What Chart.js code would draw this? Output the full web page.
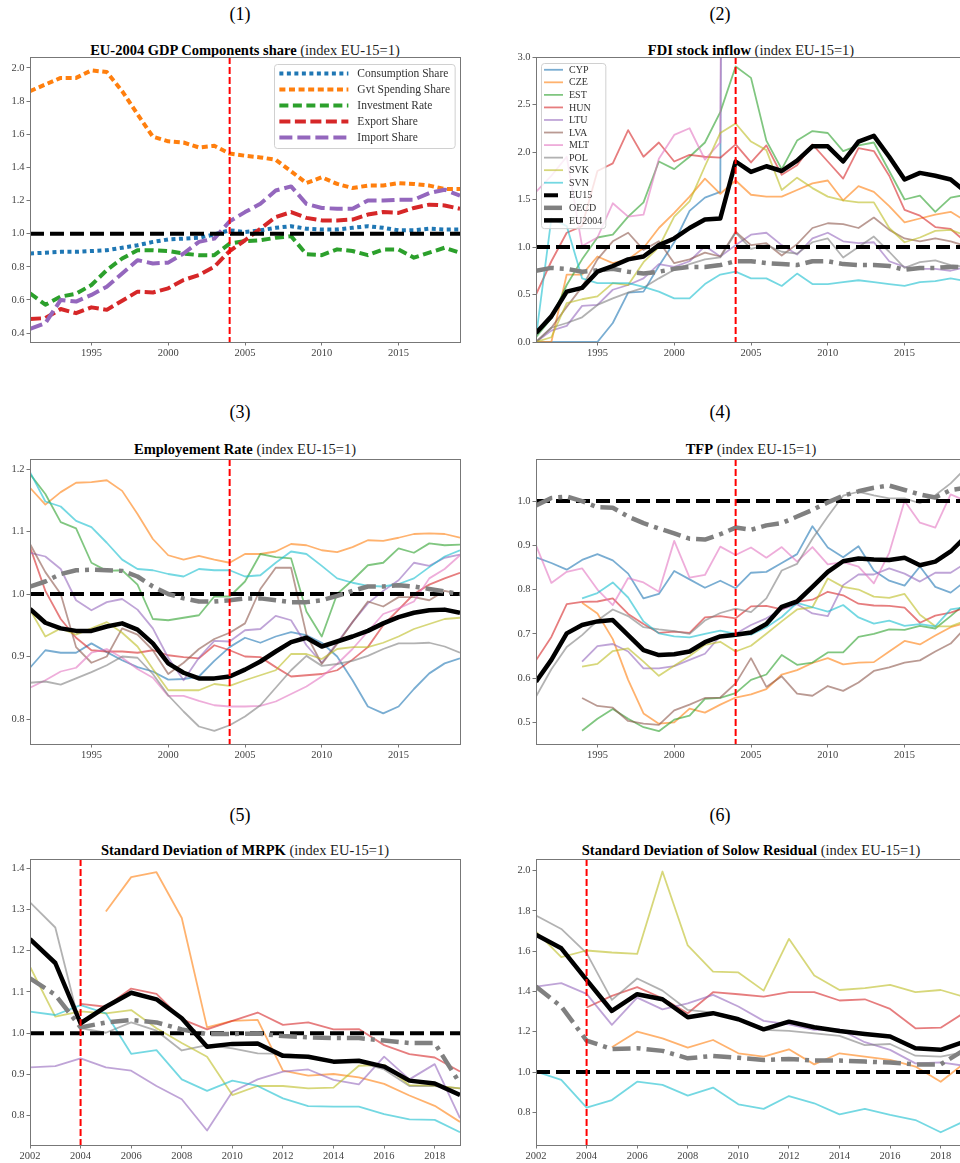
<!DOCTYPE html>
<html>
<head>
<meta charset="utf-8">
<script src="https://cdn.jsdelivr.net/npm/chart.js@4.4.1/dist/chart.umd.min.js"></script>
<style>
    body { margin: 0; width: 960px; height: 1163px; overflow: hidden; position: relative; background: #fff; font-family: 'Liberation Serif', serif; }
    canvas { position: absolute; }
    .etiqueta { position: absolute; width: 480px; text-align: center; font-size: 18px; line-height: 22px; color: #000; }
    .titulo { position: absolute; width: 430px; text-align: center; font-size: 14.5px; line-height: 18px; white-space: nowrap; color: #000; }
    .titulo span { font-weight: normal; color: #222; }
</style>
</head>
<body>
<script>
// Años de las series
const anios = [1991, 1992, 1993, 1994, 1995, 1996, 1997, 1998, 1999, 2000, 2001, 2002, 2003, 2004, 2005,
               2006, 2007, 2008, 2009, 2010, 2011, 2012, 2013, 2014, 2015, 2016, 2017, 2018, 2019];
const aniosDesv = [2002, 2003, 2004, 2005, 2006, 2007, 2008, 2009, 2010, 2011, 2012, 2013, 2014, 2015, 2016, 2017, 2018, 2019];

// Marcas de los ejes
const marcasAnios = [1995, 2000, 2005, 2010, 2015];
const marcasDesv = [2002, 2004, 2006, 2008, 2010, 2012, 2014, 2016, 2018];
const marcasPIB = [0.4, 0.6, 0.8, 1.0, 1.2, 1.4, 1.6, 1.8, 2.0];
const marcasFDI = [0.0, 0.5, 1.0, 1.5, 2.0, 2.5, 3.0];
const marcasEmpleo = [0.8, 0.9, 1.0, 1.1, 1.2];
const marcasTFP = [0.5, 0.6, 0.7, 0.8, 0.9, 1.0];
const marcasMRPK = [0.8, 0.9, 1.0, 1.1, 1.2, 1.3, 1.4];
const marcasSolow = [0.8, 1.0, 1.2, 1.4, 1.6, 1.8, 2.0];

const anioAdhesion = 2004;
const indiceEU15 = 1;

// (1) Componentes del PIB
const pibConsumo = [0.88, 0.885, 0.89, 0.89, 0.895, 0.90, 0.915, 0.93, 0.95, 0.965, 0.97, 0.975, 0.995, 1.02, 1.01,
                    1.02, 1.035, 1.045, 1.03, 1.025, 1.025, 1.035, 1.045, 1.035, 1.02, 1.02, 1.03, 1.025, 1.025];
const pibGasto = [1.86, 1.90, 1.94, 1.94, 1.985, 1.975, 1.86, 1.72, 1.585, 1.557, 1.55, 1.52, 1.53, 1.483, 1.47,
                  1.46, 1.446, 1.376, 1.305, 1.34, 1.30, 1.275, 1.29, 1.29, 1.305, 1.30, 1.29, 1.27, 1.27];
const pibInversion = [0.64, 0.571, 0.62, 0.637, 0.69, 0.78, 0.85, 0.90, 0.90, 0.895, 0.88, 0.87, 0.87, 0.94, 0.955,
                      0.96, 0.975, 0.985, 0.875, 0.87, 0.905, 0.895, 0.87, 0.905, 0.905, 0.855, 0.885, 0.915, 0.885];
const pibExport = [0.485, 0.49, 0.545, 0.52, 0.555, 0.54, 0.595, 0.65, 0.645, 0.67, 0.72, 0.75, 0.80, 0.895, 0.96,
                   1.03, 1.10, 1.13, 1.095, 1.08, 1.08, 1.085, 1.115, 1.13, 1.125, 1.155, 1.175, 1.17, 1.15];
const pibImport = [0.425, 0.46, 0.60, 0.59, 0.63, 0.68, 0.76, 0.84, 0.82, 0.825, 0.88, 0.95, 0.97, 1.074, 1.13,
                   1.18, 1.26, 1.285, 1.18, 1.155, 1.15, 1.15, 1.20, 1.20, 1.205, 1.205, 1.245, 1.265, 1.23];

// (2) Stock de IED
const fdiCYP = [0, 0, 0, 0, 0, 0.20, 0.52, 0.53, 0.80, 1.05, 1.38, 1.52, 1.58, 38.2, 41.5,
                44.0, 47.3, 45.1, 46.8, 48.2, 47.5, 49.0, 50.3, 51.2, 52.0, 51.4, 50.8, 49.6, 48.9];
const fdiCZE = [0, 0, 0.71, 0.71, 0.90, 0.83, 0.87, 0.99, 1.20, 1.36, 1.53, 1.72, 1.56, 1.70, 1.55,
                1.53, 1.53, 1.60, 1.67, 1.70, 1.49, 1.64, 1.58, 1.43, 1.26, 1.30, 1.34, 1.37, 1.27];
const fdiEST = [0.05, 0.25, 0.60, 0.87, 1.10, 1.13, 1.32, 1.47, 1.90, 1.82, 1.95, 2.10, 2.42, 2.90, 2.78,
                2.12, 1.82, 2.12, 2.22, 2.20, 2.01, 2.07, 2.10, 1.80, 1.50, 1.54, 1.37, 1.52, 1.55];
const fdiHUN = [0.50, 0.85, 1.15, 1.22, 1.80, 1.88, 2.23, 1.95, 2.10, 1.90, 1.97, 1.95, 1.94, 2.08, 1.89,
                2.07, 1.76, 1.86, 2.08, 1.90, 1.72, 2.04, 2.01, 1.75, 1.39, 1.33, 1.21, 1.19, 1.05];
const fdiLTU = [0, 0.12, 0.17, 0.38, 0.39, 0.55, 0.60, 0.67, 0.82, 0.79, 0.85, 1.01, 0.90, 1.02, 1.13,
                1.15, 1.02, 0.92, 1.09, 1.15, 1.06, 1.04, 1.05, 0.85, 0.79, 0.77, 0.77, 0.75, 0.79];
const fdiLVA = [0, 0.15, 0.37, 0.58, 0.87, 1.06, 1.15, 0.97, 1.06, 0.83, 0.87, 0.94, 0.90, 1.16, 1.02,
                1.04, 0.91, 1.03, 1.20, 1.25, 1.24, 1.20, 1.31, 1.18, 1.09, 1.06, 1.09, 1.06, 1.01];
const fdiMLT = [1.58, 1.75, 1.95, 1.01, 1.10, 1.46, 1.32, 1.34, 1.93, 2.18, 2.25, 1.92, 2.10, 30.5, 33.0,
                36.2, 38.4, 37.1, 39.5, 41.0, 40.2, 42.3, 43.1, 44.0, 43.5, 42.8, 41.9, 41.0, 40.4];
const fdiPOL = [0, 0.15, 0.20, 0.26, 0.39, 0.46, 0.52, 0.57, 0.67, 0.76, 0.82, 0.87, 0.89, 1.15, 0.98,
                1.02, 0.95, 0.93, 1.05, 1.09, 0.89, 1.00, 1.11, 0.95, 0.78, 0.84, 0.86, 0.81, 0.79];
const fdiSVK = [0, 0.05, 0.41, 0.45, 0.48, 0.62, 0.60, 0.84, 1.00, 1.32, 1.48, 1.85, 2.20, 2.30, 2.11,
                2.02, 1.60, 1.73, 1.62, 1.53, 1.49, 1.47, 1.47, 1.20, 1.05, 1.10, 1.17, 1.18, 1.12];
const fdiSVN = [0.05, 1.30, 1.22, 0.67, 0.62, 0.62, 0.62, 0.58, 0.53, 0.46, 0.46, 0.61, 0.71, 0.74, 0.67,
                0.67, 0.59, 0.72, 0.61, 0.61, 0.63, 0.65, 0.63, 0.61, 0.59, 0.63, 0.64, 0.67, 0.64];
const fdiOECD = [0.75, 0.78, 0.77, 0.74, 0.755, 0.77, 0.74, 0.72, 0.74, 0.77, 0.79, 0.79, 0.81, 0.85, 0.85,
                 0.83, 0.82, 0.81, 0.85, 0.85, 0.82, 0.81, 0.81, 0.80, 0.76, 0.78, 0.78, 0.79, 0.79];
const fdiEU2004 = [0.095, 0.27, 0.53, 0.57, 0.74, 0.80, 0.87, 0.90, 1.02, 1.09, 1.20, 1.29, 1.30, 1.90, 1.79,
                   1.85, 1.80, 1.91, 2.06, 2.06, 1.90, 2.11, 2.17, 1.95, 1.71, 1.78, 1.75, 1.71, 1.58];

// (3) Tasa de empleo
const empCYP = [0.882, 0.910, 0.906, 0.906, 0.921, 0.907, 0.894, 0.883, 0.876, 0.863, 0.864, 0.868, 0.893, 0.915, 0.930,
                0.922, 0.932, 0.939, 0.934, 0.922, 0.900, 0.862, 0.820, 0.809, 0.820, 0.848, 0.873, 0.889, 0.897];
const empCZE = [1.170, 1.143, 1.163, 1.178, 1.179, 1.182, 1.165, 1.128, 1.088, 1.062, 1.055, 1.061, 1.055, 1.050, 1.064,
                1.064, 1.068, 1.080, 1.078, 1.070, 1.067, 1.075, 1.086, 1.085, 1.090, 1.096, 1.097, 1.096, 1.090];
const empEST = [1.192, 1.160, 1.115, 1.105, 1.050, 1.037, 1.038, 1.015, 0.960, 0.958, 0.962, 0.966, 0.996, 0.996, 1.020,
                1.064, 1.059, 1.057, 0.972, 0.932, 1.000, 1.022, 1.046, 1.050, 1.073, 1.066, 1.081, 1.078, 1.079];
const empHUN = [1.075, 1.005, 0.960, 0.930, 0.910, 0.908, 0.908, 0.906, 0.910, 0.902, 0.899, 0.897, 0.918, 0.910, 0.900,
                0.899, 0.883, 0.868, 0.870, 0.872, 0.878, 0.895, 0.915, 0.950, 0.975, 1.000, 1.015, 1.025, 1.034];
const empLTU = [1.066, 1.060, 1.040, 0.990, 0.974, 0.987, 0.992, 0.975, 0.945, 0.898, 0.862, 0.898, 0.925, 0.924, 0.942,
                0.944, 0.965, 0.958, 0.918, 0.890, 0.922, 0.955, 0.985, 1.005, 1.022, 1.050, 1.045, 1.058, 1.063];
const empLVA = [1.080, 1.035, 1.000, 0.915, 0.890, 0.900, 0.945, 0.935, 0.910, 0.872, 0.890, 0.912, 0.928, 0.938, 0.953,
                1.008, 1.042, 1.042, 0.935, 0.888, 0.920, 0.955, 0.988, 0.980, 0.995, 0.995, 0.990, 1.005, 1.000];
const empMLT = [0.850, 0.862, 0.876, 0.882, 0.906, 0.912, 0.898, 0.880, 0.866, 0.837, 0.837, 0.829, 0.822, 0.820, 0.820,
                0.821, 0.828, 0.840, 0.852, 0.868, 0.888, 0.912, 0.940, 0.968, 0.977, 0.988, 1.025, 1.040, 1.062];
const empPOL = [0.858, 0.860, 0.855, 0.865, 0.875, 0.886, 0.900, 0.898, 0.872, 0.838, 0.812, 0.788, 0.781, 0.790, 0.804,
                0.822, 0.850, 0.878, 0.901, 0.885, 0.888, 0.893, 0.901, 0.912, 0.921, 0.921, 0.922, 0.916, 0.906];
const empSVK = [0.975, 0.932, 0.945, 0.935, 0.945, 0.955, 0.938, 0.916, 0.880, 0.846, 0.846, 0.846, 0.856, 0.853, 0.862,
                0.870, 0.878, 0.904, 0.904, 0.896, 0.912, 0.915, 0.915, 0.922, 0.932, 0.944, 0.952, 0.960, 0.962];
const empSVN = [1.195, 1.148, 1.140, 1.117, 1.107, 1.082, 1.055, 1.040, 1.038, 1.032, 1.028, 1.040, 1.038, 1.038, 1.028,
                1.030, 1.050, 1.068, 1.064, 1.045, 1.025, 1.018, 1.013, 1.012, 1.016, 1.025, 1.043, 1.060, 1.070];
const empOECD = [1.012, 1.020, 1.032, 1.038, 1.039, 1.038, 1.037, 1.028, 1.012, 1.000, 0.993, 0.988, 0.988, 0.990, 0.993,
                 0.993, 0.990, 0.987, 0.987, 0.990, 0.997, 1.005, 1.012, 1.012, 1.014, 1.012, 1.008, 1.004, 1.000];
const empEU2004 = [0.976, 0.954, 0.945, 0.941, 0.941, 0.948, 0.953, 0.943, 0.921, 0.889, 0.874, 0.865, 0.865, 0.868, 0.879,
                   0.892, 0.908, 0.923, 0.930, 0.916, 0.924, 0.932, 0.941, 0.953, 0.963, 0.970, 0.974, 0.975, 0.970];

// (4) Productividad total de los factores
const tfpCYP = [0.873, 0.860, 0.845, 0.867, 0.880, 0.866, 0.836, 0.780, 0.790, 0.842, 0.823, 0.804, 0.820, 0.803, 0.838,
                0.840, 0.860, 0.880, 0.943, 0.895, 0.873, 0.898, 0.843, 0.820, 0.809, 0.852, 0.806, 0.793, 0.820];
const tfpCZE = [null, null, null, 0.770, 0.746, 0.688, 0.596, 0.520, 0.497, 0.500, 0.531, 0.522, 0.540, 0.556, 0.563,
                0.575, 0.608, 0.618, 0.634, 0.645, 0.631, 0.635, 0.636, 0.660, 0.684, 0.676, 0.696, 0.715, 0.725];
const tfpEST = [null, null, null, 0.481, 0.508, 0.530, 0.508, 0.489, 0.480, 0.506, 0.515, 0.553, 0.555, 0.566, 0.596,
                0.608, 0.652, 0.630, 0.635, 0.658, 0.658, 0.693, 0.700, 0.710, 0.709, 0.718, 0.712, 0.740, 0.770];
const tfpHUN = [0.640, 0.693, 0.767, 0.772, 0.773, 0.780, 0.745, 0.722, 0.702, 0.705, 0.702, 0.737, 0.740, 0.735, 0.762,
                0.763, 0.755, 0.772, 0.777, 0.795, 0.787, 0.768, 0.764, 0.763, 0.759, 0.725, 0.741, 0.748, 0.760];
const tfpLTU = [null, null, null, 0.637, 0.672, 0.677, 0.660, 0.622, 0.622, 0.627, 0.641, 0.655, 0.695, 0.700, 0.720,
                0.735, 0.755, 0.767, 0.746, 0.740, 0.810, 0.834, 0.834, 0.848, 0.836, 0.818, 0.838, 0.838, 0.860];
const tfpLVA = [null, null, null, 0.555, 0.537, 0.533, 0.503, 0.497, 0.494, 0.527, 0.540, 0.555, 0.556, 0.588, 0.645,
                0.580, 0.604, 0.565, 0.560, 0.582, 0.571, 0.590, 0.616, 0.624, 0.635, 0.640, 0.660, 0.678, 0.715];
const tfpMLT = [0.900, 0.815, 0.840, 0.848, 0.800, 0.765, 0.826, 0.816, 0.795, 0.910, 0.827, 0.833, 0.897, 0.878, 0.895,
                0.872, 0.896, 0.863, 0.896, 0.857, 0.862, 0.852, 0.814, 0.883, 1.000, 0.951, 0.940, 1.015, 1.000];
const tfpPOL = [0.558, 0.620, 0.670, 0.697, 0.730, 0.755, 0.740, 0.715, 0.710, 0.706, 0.700, 0.730, 0.747, 0.757, 0.749,
                0.780, 0.843, 0.858, 0.915, 0.965, 1.012, 1.021, 1.013, 1.006, 1.006, 0.995, 1.013, 1.040, 1.075];
const tfpSVK = [null, null, null, 0.626, 0.632, 0.661, 0.667, 0.637, 0.605, 0.628, 0.650, 0.675, 0.682, 0.660, 0.673,
                0.700, 0.728, 0.755, 0.760, 0.825, 0.806, 0.800, 0.784, 0.781, 0.790, 0.743, 0.717, 0.717, 0.730];
const tfpSVN = [null, null, null, 0.780, 0.792, 0.816, 0.782, 0.728, 0.701, 0.694, 0.692, 0.700, 0.707, 0.700, 0.698,
                0.715, 0.738, 0.770, 0.760, 0.750, 0.765, 0.737, 0.723, 0.730, 0.718, 0.722, 0.717, 0.755, 0.760];
const tfpOECD = [0.990, 1.007, 1.010, 1.000, 0.986, 0.985, 0.965, 0.950, 0.938, 0.927, 0.915, 0.913, 0.925, 0.940, 0.935,
                 0.945, 0.950, 0.965, 0.980, 0.997, 1.012, 1.022, 1.030, 1.035, 1.025, 1.015, 1.008, 1.025, 1.030];
const tfpEU2004 = [0.592, 0.641, 0.701, 0.720, 0.728, 0.731, 0.697, 0.663, 0.652, 0.654, 0.660, 0.681, 0.694, 0.698, 0.703,
                   0.722, 0.761, 0.773, 0.806, 0.840, 0.864, 0.870, 0.868, 0.867, 0.872, 0.855, 0.863, 0.886, 0.920];

// (5) Desviación estándar del MRPK
const mrpkCZE = [null, null, null, 1.295, 1.378, 1.390, 1.279, 1.014, 1.030, 1.032, 0.909, 0.897, 0.901, 0.893, 0.877, 0.849, 0.824, 0.785];
const mrpkHUN = [null, null, 1.071, 1.064, 1.108, 1.095, 1.034, 1.009, 1.030, 1.050, 1.020, 1.026, 1.009, 1.010, 0.971, 0.949, 0.941, 0.907];
const mrpkLTU = [0.917, 0.920, 0.939, 0.917, 0.909, 0.872, 0.840, 0.764, 0.858, 0.888, 0.907, 0.912, 0.887, 0.876, 0.943, 0.888, 0.925, 0.794];
const mrpkPOL = [1.317, 1.256, 1.012, 1.001, 1.026, 1.006, 0.958, 0.971, 0.963, 0.951, 0.950, 0.945, 0.930, 0.930, 0.912, 0.872, 0.872, 0.866];
const mrpkSVK = [1.161, 1.040, 1.053, 1.048, 1.056, 1.012, 0.976, 0.943, 0.850, 0.872, 0.872, 0.866, 0.868, 0.921, 0.923, 0.874, 0.873, 0.866];
const mrpkSVN = [1.052, 1.044, 1.068, 1.048, 0.950, 0.959, 0.888, 0.860, 0.885, 0.872, 0.842, 0.823, 0.822, 0.822, 0.804, 0.791, 0.790, 0.760];
const mrpkOECD = [1.133, 1.093, 1.014, 1.026, 1.032, 1.026, 1.009, 0.998, 0.998, 0.999, 0.993, 0.990, 0.988, 0.988, 0.982, 0.976, 0.976, 0.878];
const mrpkEU2004 = [1.228, 1.170, 1.024, 1.064, 1.098, 1.082, 1.036, 0.967, 0.974, 0.975, 0.945, 0.943, 0.931, 0.933, 0.919, 0.885, 0.878, 0.850];

// (6) Desviación estándar del residuo de Solow
const solowCZE = [null, null, null, 1.123, 1.201, 1.167, 1.121, 1.159, 1.093, 1.076, 1.113, 1.038, 1.093, 1.076, 1.060, 1.027, 0.952, 1.050];
const solowHUN = [null, null, 1.320, 1.378, 1.421, 1.366, 1.292, 1.396, 1.386, 1.374, 1.396, 1.396, 1.355, 1.361, 1.313, 1.217, 1.220, 1.300];
const solowLTU = [1.424, 1.441, 1.388, 1.234, 1.369, 1.311, 1.341, 1.383, 1.325, 1.254, 1.237, 1.209, 1.212, 1.148, 1.110, 1.043, 1.048, 1.030];
const solowPOL = [1.777, 1.710, 1.590, 1.358, 1.464, 1.404, 1.308, 1.295, 1.267, 1.209, 1.204, 1.192, 1.179, 1.134, 1.139, 1.081, 1.076, 1.100];
const solowSVK = [1.697, 1.570, 1.603, 1.593, 1.586, 1.995, 1.628, 1.498, 1.494, 1.404, 1.661, 1.479, 1.407, 1.416, 1.432, 1.396, 1.407, 1.370];
const solowSVN = [1.002, 0.961, 0.823, 0.861, 0.952, 0.936, 0.883, 0.923, 0.840, 0.817, 0.881, 0.845, 0.790, 0.817, 0.787, 0.762, 0.701, 0.760];
const solowOECD = [1.424, 1.325, 1.156, 1.114, 1.118, 1.105, 1.068, 1.080, 1.071, 1.060, 1.065, 1.057, 1.057, 1.052, 1.047, 1.038, 1.038, 1.115];
const solowEU2004 = [1.681, 1.614, 1.457, 1.303, 1.386, 1.361, 1.272, 1.292, 1.262, 1.212, 1.250, 1.222, 1.204, 1.189, 1.176, 1.118, 1.110, 1.154];

// Colores (tab10 con transparencia)
const coloresPaises = {
    CYP: 'rgba(31,119,180,0.6)', CZE: 'rgba(255,127,14,0.6)', EST: 'rgba(44,160,44,0.6)',
    HUN: 'rgba(214,39,40,0.6)', LTU: 'rgba(148,103,189,0.6)', LVA: 'rgba(140,86,75,0.6)',
    MLT: 'rgba(227,119,194,0.6)', POL: 'rgba(127,127,127,0.6)', SVK: 'rgba(188,189,34,0.6)',
    SVN: 'rgba(23,190,207,0.6)'
};

const fuenteSerif = "'Liberation Serif', 'DejaVu Serif', serif";

// Función para convertir años y valores en puntos
function puntos(xs, ys) {
    return ys.map((v, i) => ({ x: xs[i], y: v }));
}

function lineaPais(nombre, xs, ys) {
    return { label: nombre, data: puntos(xs, ys), borderColor: coloresPaises[nombre], borderWidth: 1.8 };
}

// Líneas EU15, OECD y EU2004
function lineasReferencia(xs, oecd, eu2004) {
    return [
        { label: 'EU15', data: [{ x: xs[0], y: indiceEU15 }, { x: xs[xs.length - 1], y: indiceEU15 }],
          borderColor: '#000', borderWidth: 4, borderDash: [14, 6] },
        { label: 'OECD', data: puntos(xs, oecd), borderColor: '#808080', borderWidth: 4.5, borderDash: [18, 6, 4, 6] },
        { label: 'EU2004', data: puntos(xs, eu2004), borderColor: '#000', borderWidth: 4.5 }
    ];
}

// Plugin: marco completo del área del gráfico
const marco = {
    id: 'marco',
    afterDraw(chart) {
        const { ctx, chartArea: a } = chart;
        ctx.save();
        ctx.strokeStyle = '#777';
        ctx.lineWidth = 1;
        ctx.strokeRect(Math.round(a.left) + 0.5, Math.round(a.top) + 0.5, Math.round(a.right - a.left), Math.round(a.bottom - a.top));
        ctx.restore();
    }
};

// Plugin: línea vertical roja del año de adhesión
const lineaAdhesion = {
    id: 'lineaAdhesion',
    afterDatasetsDraw(chart) {
        const { ctx, chartArea: a, scales } = chart;
        const x = scales.x.getPixelForValue(anioAdhesion);
        ctx.save();
        ctx.strokeStyle = '#ff0000';
        ctx.lineWidth = 2;
        ctx.setLineDash([7, 3]);
        ctx.beginPath();
        ctx.moveTo(x, a.top);
        ctx.lineTo(x, a.bottom);
        ctx.stroke();
        ctx.restore();
    }
};

// Plugin: leyenda en caja dentro del área
const cajaLeyenda = {
    id: 'cajaLeyenda',
    afterDraw(chart, args, op) {
        if (!op.mostrar) return;
        const { ctx, chartArea: a } = chart;
        const items = chart.data.datasets.filter(d => d.enLeyenda !== false);
        ctx.save();
        ctx.font = `${op.tamano}px ${fuenteSerif}`;
        const anchoTexto = Math.max(...items.map(d => ctx.measureText(d.label).width));
        const ancho = op.margen * 2 + op.muestra + op.separacion + anchoTexto;
        const alto = op.margenV * 2 + op.fila * items.length;
        const x0 = op.lado === 'derecha' ? a.right - op.dx - ancho : a.left + op.dx;
        const y0 = a.top + op.dy;
        ctx.fillStyle = 'rgba(255,255,255,0.8)';
        ctx.strokeStyle = '#d0d0d0';
        ctx.lineWidth = 1;
        ctx.beginPath();
        ctx.roundRect(Math.round(x0) + 0.5, Math.round(y0) + 0.5, ancho, alto, 3);
        ctx.fill();
        ctx.stroke();
        items.forEach((d, i) => {
            const yc = y0 + op.margenV + op.fila * (i + 0.5);
            ctx.strokeStyle = d.borderColor;
            ctx.lineWidth = d.borderWidth;
            ctx.setLineDash(d.borderDash || []);
            ctx.beginPath();
            ctx.moveTo(x0 + op.margen, yc);
            ctx.lineTo(x0 + op.margen + op.muestra, yc);
            ctx.stroke();
            ctx.setLineDash([]);
            ctx.fillStyle = '#333';
            ctx.textBaseline = 'middle';
            ctx.fillText(d.label, x0 + op.margen + op.muestra + op.separacion, yc + 0.5);
        });
        ctx.restore();
    }
};

// Función para crear etiquetas (n) y títulos
function crearTextos(num, col, centroEtiqueta, titulo, izq, centroTitulo) {
    const et = document.createElement('div');
    et.className = 'etiqueta';
    et.style.left = (col * 480) + 'px';
    et.style.top = (centroEtiqueta - 11) + 'px';
    et.textContent = `(${num})`;
    document.body.appendChild(et);

    const ti = document.createElement('div');
    ti.className = 'titulo';
    ti.style.left = izq + 'px';
    ti.style.top = (centroTitulo - 9) + 'px';
    ti.innerHTML = `<b>${titulo}</b> <span>(index EU-15=1)</span>`;
    document.body.appendChild(ti);
}

// Función para crear cada gráfico
function crearGrafico(conf) {
    const canvas = document.createElement('canvas');
    canvas.width = 36 + 430 + 10;
    canvas.height = 10 + conf.alto + 24;
    canvas.style.left = (conf.izq - 36) + 'px';
    canvas.style.top = (conf.arriba - 10) + 'px';
    document.body.appendChild(canvas);

    const n = conf.datasets.length;
    conf.datasets.forEach((d, i) => {
        d.order = -i;              // lo último encima, como en matplotlib
        d.pointRadius = 0;
        d.tension = 0;
        d.fill = false;
        d.spanGaps = false;
        d.clip = 0;
        d.borderCapStyle = 'butt';
        d.borderJoinStyle = 'round';
    });

    const fuenteTicks = { family: fuenteSerif, size: 10.5 };

    return new Chart(canvas, {
        type: 'line',
        data: { datasets: conf.datasets },
        options: {
            responsive: false,
            animation: false,
            devicePixelRatio: 1,
            events: [],
            layout: { padding: { top: 10, right: 10, left: 0, bottom: 0 } },
            plugins: {
                legend: { display: false },
                tooltip: { enabled: false },
                cajaLeyenda: conf.leyenda || { mostrar: false }
            },
            scales: {
                x: {
                    type: 'linear',
                    min: conf.xmin,
                    max: conf.xmax,
                    afterBuildTicks: s => { s.ticks = conf.marcasX.map(v => ({ value: v })); },
                    afterFit: s => { s.height = 24; },
                    grid: { drawOnChartArea: false, drawTicks: true, tickLength: 3.5, color: '#777' },
                    border: { display: false },
                    ticks: { font: fuenteTicks, color: '#444', padding: 1, maxRotation: 0, autoSkip: false,
                             callback: v => String(v) }
                },
                y: {
                    type: 'linear',
                    min: conf.ymin,
                    max: conf.ymax,
                    afterBuildTicks: s => { s.ticks = conf.marcasY.map(v => ({ value: v })); },
                    afterFit: s => { s.width = 36; },
                    grid: { drawOnChartArea: false, drawTicks: true, tickLength: 3.5, color: '#777' },
                    border: { display: false },
                    ticks: { font: fuenteTicks, color: '#444', padding: 2, autoSkip: false,
                             callback: v => v.toFixed(1) }
                }
            }
        },
        plugins: [lineaAdhesion, marco, cajaLeyenda]
    });
}

document.addEventListener('DOMContentLoaded', () => {
    // (1)
    crearTextos(1, 0, 14, 'EU-2004 GDP Components share', 30, 49.5);
    crearGrafico({
        izq: 30, arriba: 57, alto: 285, xmin: 1991, xmax: 2019, ymin: 0.346, ymax: 2.066,
        marcasX: marcasAnios, marcasY: marcasPIB,
        datasets: [
            { label: 'Consumption Share', data: puntos(anios, pibConsumo), borderColor: '#1f77b4', borderWidth: 4, borderDash: [4, 3.5] },
            { label: 'Gvt Spending Share', data: puntos(anios, pibGasto), borderColor: '#ff7f0e', borderWidth: 4, borderDash: [6, 3.6] },
            { label: 'Investment Rate', data: puntos(anios, pibInversion), borderColor: '#2ca02c', borderWidth: 4, borderDash: [9, 4.5] },
            { label: 'Export Share', data: puntos(anios, pibExport), borderColor: '#d62728', borderWidth: 4, borderDash: [11, 4.5] },
            { label: 'Import Share', data: puntos(anios, pibImport), borderColor: '#9467bd', borderWidth: 4, borderDash: [13, 5] },
            { label: 'EU15', enLeyenda: false, data: [{ x: 1991, y: indiceEU15 }, { x: 2019, y: indiceEU15 }],
              borderColor: '#000', borderWidth: 4, borderDash: [14, 6] }
        ],
        leyenda: { mostrar: true, lado: 'derecha', dx: 5, dy: 6.5, tamano: 11.5, fila: 16, margenV: 2,
                   margen: 5, muestra: 69, separacion: 9 }
    });

    // (2)
    crearTextos(2, 1, 14, 'FDI stock inflow', 536, 49.5);
    crearGrafico({
        izq: 536, arriba: 57, alto: 285, xmin: 1991, xmax: 2019, ymin: 0, ymax: 3,
        marcasX: marcasAnios, marcasY: marcasFDI,
        datasets: [
            lineaPais('CYP', anios, fdiCYP), lineaPais('CZE', anios, fdiCZE), lineaPais('EST', anios, fdiEST),
            lineaPais('HUN', anios, fdiHUN), lineaPais('LTU', anios, fdiLTU), lineaPais('LVA', anios, fdiLVA),
            lineaPais('MLT', anios, fdiMLT), lineaPais('POL', anios, fdiPOL), lineaPais('SVK', anios, fdiSVK),
            lineaPais('SVN', anios, fdiSVN),
            ...lineasReferencia(anios, fdiOECD, fdiEU2004)
        ],
        leyenda: { mostrar: true, lado: 'izquierda', dx: 5, dy: 5.5, tamano: 10, fila: 12.55, margenV: 1,
                   margen: 3, muestra: 19, separacion: 6 }
    });

    // (3)
    crearTextos(3, 0, 412, 'Employement Rate', 30, 449);
    crearGrafico({
        izq: 30, arriba: 459, alto: 285, xmin: 1991, xmax: 2019, ymin: 0.76, ymax: 1.216,
        marcasX: marcasAnios, marcasY: marcasEmpleo,
        datasets: [
            lineaPais('CYP', anios, empCYP), lineaPais('CZE', anios, empCZE), lineaPais('EST', anios, empEST),
            lineaPais('HUN', anios, empHUN), lineaPais('LTU', anios, empLTU), lineaPais('LVA', anios, empLVA),
            lineaPais('MLT', anios, empMLT), lineaPais('POL', anios, empPOL), lineaPais('SVK', anios, empSVK),
            lineaPais('SVN', anios, empSVN),
            ...lineasReferencia(anios, empOECD, empEU2004)
        ]
    });

    // (4)
    crearTextos(4, 1, 412, 'TFP', 536, 449);
    crearGrafico({
        izq: 536, arriba: 459, alto: 285, xmin: 1991, xmax: 2019, ymin: 0.451, ymax: 1.095,
        marcasX: marcasAnios, marcasY: marcasTFP,
        datasets: [
            lineaPais('CYP', anios, tfpCYP), lineaPais('CZE', anios, tfpCZE), lineaPais('EST', anios, tfpEST),
            lineaPais('HUN', anios, tfpHUN), lineaPais('LTU', anios, tfpLTU), lineaPais('LVA', anios, tfpLVA),
            lineaPais('MLT', anios, tfpMLT), lineaPais('POL', anios, tfpPOL), lineaPais('SVK', anios, tfpSVK),
            lineaPais('SVN', anios, tfpSVN),
            ...lineasReferencia(anios, tfpOECD, tfpEU2004)
        ]
    });

    // (5)
    crearTextos(5, 0, 815, 'Standard Deviation of MRPK', 30, 850);
    crearGrafico({
        izq: 30, arriba: 859, alto: 286, xmin: 2002, xmax: 2019, ymin: 0.729, ymax: 1.422,
        marcasX: marcasDesv, marcasY: marcasMRPK,
        datasets: [
            lineaPais('CZE', aniosDesv, mrpkCZE), lineaPais('HUN', aniosDesv, mrpkHUN), lineaPais('LTU', aniosDesv, mrpkLTU),
            lineaPais('POL', aniosDesv, mrpkPOL), lineaPais('SVK', aniosDesv, mrpkSVK), lineaPais('SVN', aniosDesv, mrpkSVN),
            ...lineasReferencia(aniosDesv, mrpkOECD, mrpkEU2004)
        ]
    });

    // (6)
    crearTextos(6, 1, 815, 'Standard Deviation of Solow Residual', 536, 850);
    crearGrafico({
        izq: 536, arriba: 859, alto: 286, xmin: 2002, xmax: 2019, ymin: 0.638, ymax: 2.057,
        marcasX: marcasDesv, marcasY: marcasSolow,
        datasets: [
            lineaPais('CZE', aniosDesv, solowCZE), lineaPais('HUN', aniosDesv, solowHUN), lineaPais('LTU', aniosDesv, solowLTU),
            lineaPais('POL', aniosDesv, solowPOL), lineaPais('SVK', aniosDesv, solowSVK), lineaPais('SVN', aniosDesv, solowSVN),
            ...lineasReferencia(aniosDesv, solowOECD, solowEU2004)
        ]
    });
});
</script>
</body>
</html>
